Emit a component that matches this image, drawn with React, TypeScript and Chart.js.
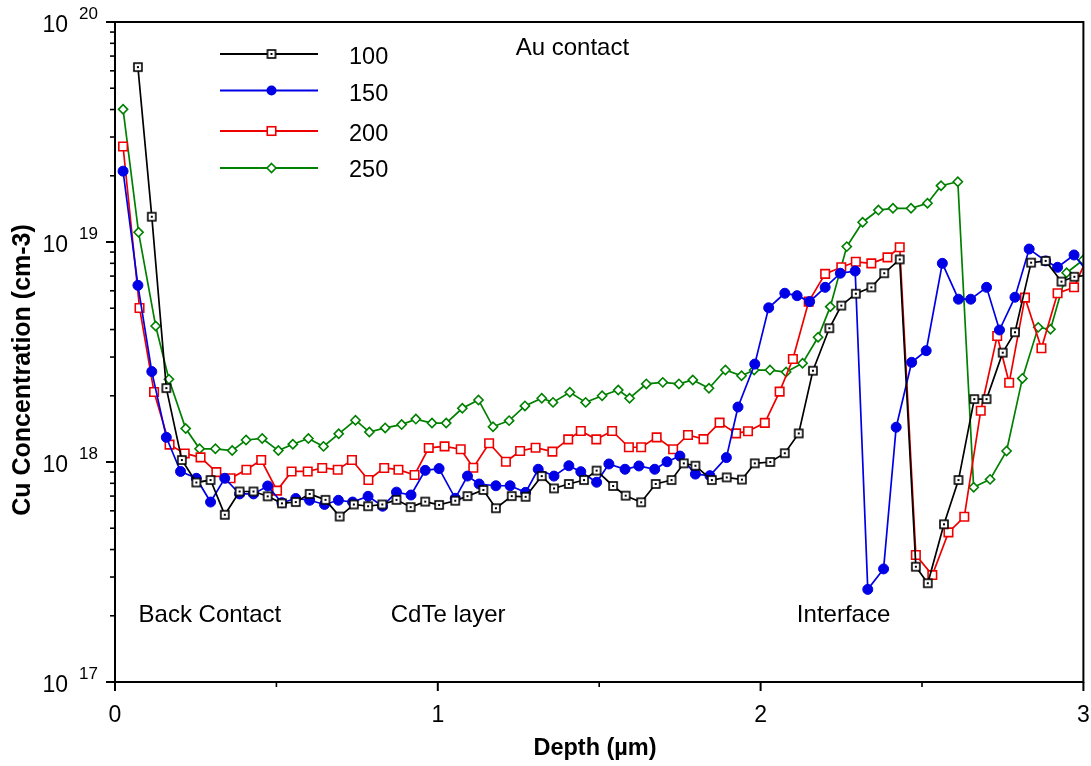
import React, { useEffect, useRef } from "react";
import { Chart, registerables } from "chart.js";

Chart.register(...registerables);

const W = 1091;
const H = 766;
const FONT = '"Liberation Sans", Arial, sans-serif';

// Depth (µm) and log10 of Cu concentration (cm-3)
const depth100 = [0.071,0.114,0.159,0.207,0.252,0.296,0.340,0.386,0.429,0.473,0.517,0.560,0.603,0.652,0.696,0.740,0.784,0.828,0.872,0.916,0.961,1.004,1.054,1.092,1.141,1.180,1.229,1.272,1.322,1.360,1.406,1.453,1.492,1.543,1.582,1.630,1.675,1.724,1.762,1.798,1.849,1.895,1.942,1.982,2.030,2.075,2.118,2.162,2.213,2.250,2.295,2.343,2.383,2.431,2.481,2.518,2.568,2.613,2.662,2.700,2.750,2.788,2.838,2.883,2.932,2.972,3.015];
const logCu100 = [19.795,19.115,18.336,18.009,17.907,17.918,17.760,17.866,17.866,17.844,17.812,17.818,17.855,17.828,17.752,17.807,17.799,17.807,17.828,17.795,17.820,17.805,17.824,17.845,17.873,17.790,17.845,17.842,17.936,17.880,17.900,17.918,17.961,17.891,17.847,17.817,17.900,17.918,17.994,17.983,17.918,17.930,17.920,17.994,18.000,18.040,18.130,18.415,18.608,18.711,18.765,18.794,18.858,18.921,17.524,17.449,17.717,17.918,18.286,18.286,18.497,18.590,18.906,18.914,18.820,18.842,18.850];

const depth150 = [0.025,0.071,0.114,0.159,0.203,0.252,0.296,0.340,0.386,0.429,0.473,0.517,0.560,0.603,0.649,0.692,0.736,0.784,0.829,0.872,0.917,0.961,1.004,1.054,1.092,1.128,1.180,1.224,1.272,1.311,1.360,1.406,1.443,1.492,1.530,1.580,1.623,1.672,1.710,1.750,1.798,1.843,1.894,1.930,1.982,2.025,2.075,2.113,2.152,2.200,2.247,2.293,2.332,2.381,2.420,2.468,2.513,2.563,2.613,2.651,2.700,2.740,2.788,2.832,2.883,2.920,2.971,3.015];
const logCu150 = [19.322,18.803,18.411,18.112,17.957,17.926,17.818,17.926,17.855,17.855,17.891,17.815,17.834,17.826,17.807,17.826,17.818,17.844,17.799,17.863,17.850,17.962,17.970,17.835,17.936,17.900,17.892,17.892,17.862,17.967,17.936,17.983,17.956,17.908,17.991,17.967,17.982,17.967,18.001,18.027,17.945,17.938,18.020,18.250,18.445,18.701,18.767,18.756,18.729,18.794,18.858,18.868,17.421,17.514,18.158,18.453,18.506,18.903,18.740,18.740,18.794,18.600,18.749,18.968,18.914,18.885,18.941,18.860];

const depth200 = [0.025,0.076,0.121,0.169,0.216,0.265,0.314,0.358,0.407,0.453,0.502,0.547,0.597,0.642,0.690,0.734,0.785,0.834,0.878,0.928,0.972,1.021,1.071,1.110,1.159,1.211,1.255,1.303,1.355,1.404,1.443,1.491,1.540,1.592,1.630,1.678,1.729,1.775,1.823,1.873,1.924,1.961,2.013,2.059,2.100,2.149,2.200,2.250,2.295,2.343,2.393,2.431,2.481,2.532,2.582,2.631,2.682,2.733,2.770,2.819,2.870,2.920,2.971,3.018];
const logCu200 = [19.434,18.700,18.318,18.079,18.039,18.021,17.954,17.926,17.965,18.009,17.870,17.957,17.957,17.973,17.965,18.009,17.918,17.973,17.965,17.941,18.064,18.071,18.058,17.974,18.085,18.001,18.050,18.065,18.047,18.103,18.141,18.103,18.141,18.067,18.067,18.112,18.058,18.123,18.104,18.179,18.130,18.140,18.178,18.320,18.468,18.729,18.855,18.885,18.910,18.903,18.930,18.976,17.577,17.486,17.680,17.751,18.233,18.573,18.360,18.747,18.517,18.767,18.794,18.950];

const depth250 = [0.025,0.073,0.126,0.167,0.219,0.262,0.311,0.363,0.406,0.456,0.506,0.551,0.599,0.646,0.693,0.745,0.788,0.837,0.888,0.932,0.982,1.026,1.076,1.126,1.171,1.221,1.270,1.322,1.357,1.409,1.458,1.509,1.559,1.594,1.646,1.697,1.747,1.790,1.840,1.891,1.941,1.980,2.029,2.079,2.130,2.178,2.216,2.267,2.316,2.365,2.410,2.466,2.517,2.559,2.611,2.660,2.711,2.762,2.811,2.860,2.898,2.948,2.999];
const logCu250 = [19.603,19.044,18.618,18.376,18.152,18.060,18.060,18.052,18.100,18.107,18.052,18.081,18.107,18.071,18.128,18.190,18.136,18.155,18.170,18.195,18.177,18.177,18.244,18.282,18.160,18.188,18.255,18.290,18.271,18.317,18.271,18.301,18.327,18.290,18.355,18.362,18.355,18.373,18.335,18.418,18.392,18.418,18.418,18.409,18.449,18.567,18.706,18.979,19.090,19.145,19.153,19.153,19.176,19.256,19.274,17.885,17.921,18.050,18.380,18.612,18.603,18.860,18.918];

const seriesNames = ["100", "150", "200", "250"];
const seriesColors = ["#000000", "#0000e6", "#ee0000", "#008000"];
const xTickValues = [0, 0.5, 1, 1.5, 2, 2.5, 3];
const xTickLabels = ["0", "", "1", "", "2", "", "3"];
const yDecades = [17, 18, 19, 20];
const xTitle = "Depth (µm)";
const yTitle = "Cu Concentration (cm-3)";
const notes = [
  { text: "Au contact", x: 1.417, y: 19.88 },
  { text: "Back Contact", x: 0.294, y: 17.305 },
  { text: "CdTe layer", x: 1.032, y: 17.305 },
  { text: "Interface", x: 2.257, y: 17.305 },
];

function toPoints(xs: number[], ls: number[]) {
  return xs.map((x, i) => ({ x, y: Math.pow(10, ls[i]) }));
}

function makeDotSquare(color: string) {
  const c = document.createElement("canvas");
  c.width = 12;
  c.height = 12;
  const g = c.getContext("2d")!;
  g.fillStyle = "#ffffff";
  g.fillRect(2, 2, 8, 8);
  g.strokeStyle = color;
  g.lineWidth = 1.6;
  g.strokeRect(2, 2, 8, 8);
  g.fillStyle = color;
  g.fillRect(5, 5, 2, 2);
  return c;
}

function drawMarker(ctx: CanvasRenderingContext2D, idx: number, x: number, y: number, img: HTMLCanvasElement) {
  const col = seriesColors[idx];
  ctx.save();
  ctx.lineWidth = 1.6;
  ctx.strokeStyle = col;
  if (idx === 0) {
    ctx.drawImage(img, x - 6, y - 6);
  } else if (idx === 1) {
    ctx.fillStyle = col;
    ctx.beginPath();
    ctx.arc(x, y, 5, 0, Math.PI * 2);
    ctx.fill();
  } else if (idx === 2) {
    ctx.fillStyle = "#fff";
    ctx.fillRect(x - 4.25, y - 4.25, 8.5, 8.5);
    ctx.strokeRect(x - 4.25, y - 4.25, 8.5, 8.5);
  } else {
    ctx.fillStyle = "#fff";
    ctx.beginPath();
    ctx.moveTo(x, y - 4.5);
    ctx.lineTo(x + 4.5, y);
    ctx.lineTo(x, y + 4.5);
    ctx.lineTo(x - 4.5, y);
    ctx.closePath();
    ctx.fill();
    ctx.stroke();
  }
  ctx.restore();
}

export default function App() {
  const ref = useRef<HTMLCanvasElement | null>(null);

  useEffect(() => {
    if (!ref.current) return;
    const dotSquare = makeDotSquare(seriesColors[0]);
    const xsArr = [depth100, depth150, depth200, depth250];
    const lsArr = [logCu100, logCu150, logCu200, logCu250];
    const styles: any[] = [
      { pointStyle: dotSquare, pointRadius: 6, pointBackgroundColor: "#fff", pointBorderWidth: 1.6 },
      { pointStyle: "circle", pointRadius: 5, pointBackgroundColor: seriesColors[1], pointBorderWidth: 1 },
      { pointStyle: "rect", pointRadius: 6, pointBackgroundColor: "#fff", pointBorderWidth: 1.6 },
      { pointStyle: "rectRot", pointRadius: 4.6, pointBackgroundColor: "#fff", pointBorderWidth: 1.6 },
    ];

    const datasets = seriesNames.map((name, i) => ({
      label: name,
      data: toPoints(xsArr[i], lsArr[i]),
      borderColor: seriesColors[i],
      pointBorderColor: seriesColors[i],
      borderWidth: 1.7,
      tension: 0,
      fill: false,
      ...styles[i],
    }));

    const decor = {
      id: "decor",
      afterDraw(chart: any) {
        const ctx: CanvasRenderingContext2D = chart.ctx;
        const xs = chart.scales.x;
        const ys = chart.scales.y;
        const a = chart.chartArea;
        ctx.save();
        ctx.strokeStyle = "#000";
        ctx.fillStyle = "#000";
        ctx.lineWidth = 2;
        ctx.strokeRect(a.left, a.top, a.right - a.left, a.bottom - a.top);

        // x ticks + labels
        ctx.font = `23px ${FONT}`;
        ctx.textAlign = "center";
        ctx.textBaseline = "middle";
        xTickValues.forEach((v, i) => {
          const px = xs.getPixelForValue(v);
          const major = xTickLabels[i] !== "";
          ctx.lineWidth = major ? 2 : 1.6;
          ctx.beginPath();
          ctx.moveTo(px, a.bottom);
          ctx.lineTo(px, a.bottom + (major ? 9 : 5));
          ctx.stroke();
          if (major) ctx.fillText(xTickLabels[i], px, a.bottom + 34);
        });

        // y ticks + labels
        yDecades.forEach((e) => {
          const py = ys.getPixelForValue(Math.pow(10, e));
          ctx.lineWidth = 2;
          ctx.beginPath();
          ctx.moveTo(a.left, py);
          ctx.lineTo(a.left - 9, py);
          ctx.stroke();
          if (e < 20) {
            for (let k = 2; k <= 9; k++) {
              const pm = ys.getPixelForValue(k * Math.pow(10, e));
              ctx.lineWidth = 1.6;
              ctx.beginPath();
              ctx.moveTo(a.left, pm);
              ctx.lineTo(a.left - 5, pm);
              ctx.stroke();
            }
          }
          ctx.font = `23px ${FONT}`;
          ctx.textAlign = "right";
          ctx.textBaseline = "middle";
          ctx.fillText("10", 68, py + 4);
          ctx.font = `17px ${FONT}`;
          ctx.textAlign = "left";
          ctx.fillText(String(e), 79, py - 8);
        });

        // axis titles
        ctx.font = `bold 23.5px ${FONT}`;
        ctx.textAlign = "center";
        ctx.textBaseline = "middle";
        ctx.fillText(xTitle, 595, 749);
        ctx.save();
        ctx.translate(23, 370);
        ctx.rotate(-Math.PI / 2);
        ctx.font = `bold 25px ${FONT}`;
        ctx.fillText(yTitle, 0, 0);
        ctx.restore();

        // annotations
        ctx.font = `24px ${FONT}`;
        notes.forEach((n) => {
          ctx.fillText(n.text, xs.getPixelForValue(n.x), ys.getPixelForValue(Math.pow(10, n.y)));
        });

        // legend
        const legendY = [54, 90.5, 131, 168];
        const labelY = [58, 95, 135, 171];
        seriesNames.forEach((name, i) => {
          ctx.strokeStyle = seriesColors[i];
          ctx.lineWidth = 2;
          ctx.beginPath();
          ctx.moveTo(220, legendY[i]);
          ctx.lineTo(318, legendY[i]);
          ctx.stroke();
          drawMarker(ctx, i, 271.5, legendY[i], dotSquare);
          ctx.fillStyle = "#000";
          ctx.font = `23.5px ${FONT}`;
          ctx.textAlign = "left";
          ctx.textBaseline = "middle";
          ctx.fillText(name, 349, labelY[i]);
        });
        ctx.restore();
      },
    };

    const chart = new Chart(ref.current, {
      type: "line",
      data: { datasets },
      options: {
        responsive: false,
        animation: false,
        devicePixelRatio: 1,
        layout: { padding: { left: 115, top: 22, right: 6, bottom: 84 } },
        scales: {
          x: { type: "linear", min: 0, max: 3, display: false },
          y: { type: "logarithmic", min: 1e17, max: 1e20, display: false },
        },
        plugins: { legend: { display: false }, tooltip: { enabled: false } },
      },
      plugins: [decor],
    } as any);
    return () => chart.destroy();
  }, []);

  return (
    <div style={{ position: "absolute", left: 0, top: 0, width: W, height: H, background: "#fff" }}>
      <canvas ref={ref} width={W} height={H} style={{ display: "block" }} />
    </div>
  );
}
